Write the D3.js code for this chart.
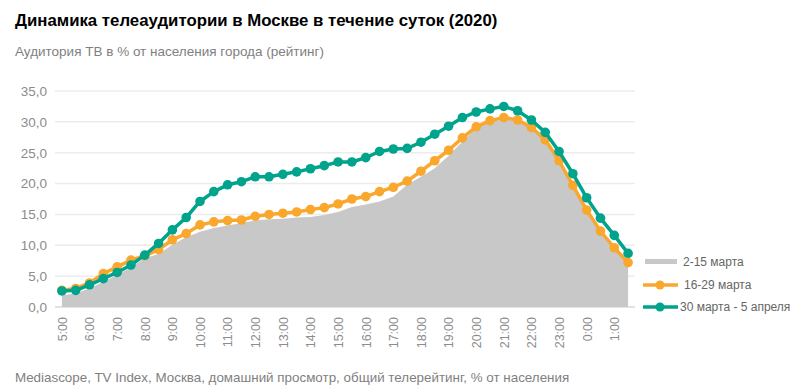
<!DOCTYPE html>
<html>
<head>
<meta charset="utf-8">
<script src="https://cdn.jsdelivr.net/npm/d3@7"></script>
<style>
  body { margin: 0; background: #fff; }
  svg { font-family: "Liberation Sans", Arial, sans-serif; }
</style>
</head>
<body>
<svg width="791" height="389"></svg>
<script>
// half-hour slots 5:00 .. 1:30
var times = ["5:00","5:30","6:00","6:30","7:00","7:30","8:00","8:30","9:00","9:30",
  "10:00","10:30","11:00","11:30","12:00","12:30","13:00","13:30","14:00","14:30",
  "15:00","15:30","16:00","16:30","17:00","17:30","18:00","18:30","19:00","19:30",
  "20:00","20:30","21:00","21:30","22:00","22:30","23:00","23:30","0:00","0:30",
  "1:00","1:30"];

var tickLabels = ["5:00","6:00","7:00","8:00","9:00","10:00","11:00","12:00","13:00",
  "14:00","15:00","16:00","17:00","18:00","19:00","20:00","21:00","22:00","23:00","0:00","1:00"];

var yTicks = [0, 5, 10, 15, 20, 25, 30, 35];

var seriesNames = ["2-15 марта", "16-29 марта", "30 марта - 5 апреля"];

var march2 = [1.9, 2.2, 3.0, 4.1, 5.2, 6.4, 7.9, 8.6, 10.1, 11.3,
  12.2, 12.8, 13.2, 13.6, 14.0, 14.2, 14.3, 14.5, 14.6, 14.9,
  15.4, 16.2, 16.6, 17.1, 17.9, 19.8, 21.1, 22.5, 24.5, 26.8,
  29.0, 30.0, 30.4, 30.3, 29.0, 27.3, 24.1, 19.8, 16.0, 12.5,
  9.8, 7.1];

var march16 = [2.7, 3.0, 3.9, 5.4, 6.5, 7.6, 8.3, 9.3, 10.9, 11.9,
  13.3, 13.8, 14.0, 14.1, 14.7, 15.0, 15.2, 15.4, 15.8, 16.1,
  16.7, 17.5, 17.9, 18.7, 19.4, 20.4, 22.0, 23.7, 25.4, 27.4,
  29.2, 30.2, 30.7, 30.3, 29.1, 27.1, 23.7, 19.7, 15.7, 12.3,
  9.6, 7.2];

var march30 = [2.6, 2.7, 3.6, 4.6, 5.6, 6.8, 8.4, 10.3, 12.5, 14.5,
  17.1, 18.7, 19.8, 20.3, 21.1, 21.1, 21.5, 21.9, 22.4, 22.9,
  23.5, 23.5, 24.2, 25.2, 25.6, 25.7, 26.7, 28.0, 29.3, 30.7,
  31.6, 32.1, 32.5, 31.8, 30.3, 28.3, 25.2, 21.6, 17.7, 14.4,
  11.6, 8.7];

var svg = d3.select("svg");

var x = d3.scalePoint().domain(times).range([55, 635]).padding(0.5);
var y = d3.scaleLinear().domain([0, 35]).range([307, 91]);

var comma = d3.formatLocale({ decimal: ",", thousands: " ", grouping: [3], currency: ["", ""] });

// titles
svg.append("text").attr("x", 15).attr("y", 26)
  .attr("font-size", 16.8).attr("font-weight", "bold").attr("fill", "#000")
  .text("Динамика телеаудитории в Москве в течение суток (2020)");
svg.append("text").attr("x", 15).attr("y", 56)
  .attr("font-size", 13.5).attr("fill", "#7f7f7f")
  .text("Аудитория ТВ в % от населения города (рейтинг)");
svg.append("text").attr("x", 15).attr("y", 382)
  .attr("font-size", 13.4).attr("fill", "#7f7f7f")
  .text("Mediascope, TV Index, Москва, домашний просмотр, общий телерейтинг, % от населения");

// grid
svg.append("g").selectAll("line").data(yTicks).enter().append("line")
  .attr("x1", 55).attr("x2", 635)
  .attr("y1", function (d) { return y(d); })
  .attr("y2", function (d) { return y(d); })
  .attr("stroke", function (d) { return d === 0 ? "#d9d9d9" : "#ececec"; })
  .attr("stroke-width", 1.5);

// y axis
var yAxis = svg.append("g").attr("transform", "translate(55,0)")
  .call(d3.axisLeft(y).tickValues(yTicks).tickSize(0).tickPadding(8).tickFormat(comma.format(".1f")));
yAxis.select(".domain").remove();
yAxis.selectAll("text").attr("font-size", 13.5).attr("fill", "#8c8c8c")
  .attr("font-family", "Liberation Sans, Arial, sans-serif");

// x axis labels
var xAxis = svg.append("g").attr("transform", "translate(0,307)")
  .call(d3.axisBottom(x).tickValues(tickLabels).tickSize(0).tickPadding(0));
xAxis.select(".domain").remove();
xAxis.selectAll("text")
  .attr("font-size", 12.5).attr("fill", "#8c8c8c")
  .attr("font-family", "Liberation Sans, Arial, sans-serif")
  .attr("text-anchor", "end")
  .attr("transform", "rotate(-90)")
  .attr("x", -10).attr("y", 0).attr("dy", "0.35em");

// area
var area = d3.area()
  .x(function (d, i) { return x(times[i]); })
  .y0(y(0))
  .y1(function (d) { return y(d); });
svg.append("path").datum(march2).attr("d", area).attr("fill", "#c8c8c8");

var line = d3.line()
  .x(function (d, i) { return x(times[i]); })
  .y(function (d) { return y(d); });

function drawSeries(values, color) {
  svg.append("path").datum(values).attr("d", line)
    .attr("fill", "none").attr("stroke", color).attr("stroke-width", 3.5)
    .attr("stroke-linejoin", "round");
  svg.append("g").selectAll("circle").data(values).enter().append("circle")
    .attr("cx", function (d, i) { return x(times[i]); })
    .attr("cy", function (d) { return y(d); })
    .attr("r", 4.8).attr("fill", color);
}
drawSeries(march16, "#f9a72d");
drawSeries(march30, "#00a38b");

// legend
var legend = svg.append("g").attr("font-size", 12).attr("fill", "#595959");
legend.append("rect").attr("x", 645).attr("y", 259).attr("width", 32).attr("height", 5).attr("fill", "#c8c8c8");
legend.append("text").attr("x", 683).attr("y", 266).attr("fill", "#666").text(seriesNames[0]);

legend.append("line").attr("x1", 643).attr("x2", 678).attr("y1", 285).attr("y2", 285)
  .attr("stroke", "#f9a72d").attr("stroke-width", 3.5);
legend.append("circle").attr("cx", 660).attr("cy", 285).attr("r", 4.5).attr("fill", "#f9a72d");
legend.append("text").attr("x", 684).attr("y", 289).attr("fill", "#666").text(seriesNames[1]);

legend.append("line").attr("x1", 643).attr("x2", 678).attr("y1", 307).attr("y2", 307)
  .attr("stroke", "#00a38b").attr("stroke-width", 3.5);
legend.append("circle").attr("cx", 660).attr("cy", 307).attr("r", 4.5).attr("fill", "#00a38b");
legend.append("text").attr("x", 680).attr("y", 311).attr("fill", "#666").text(seriesNames[2]);
</script>
</body>
</html>
